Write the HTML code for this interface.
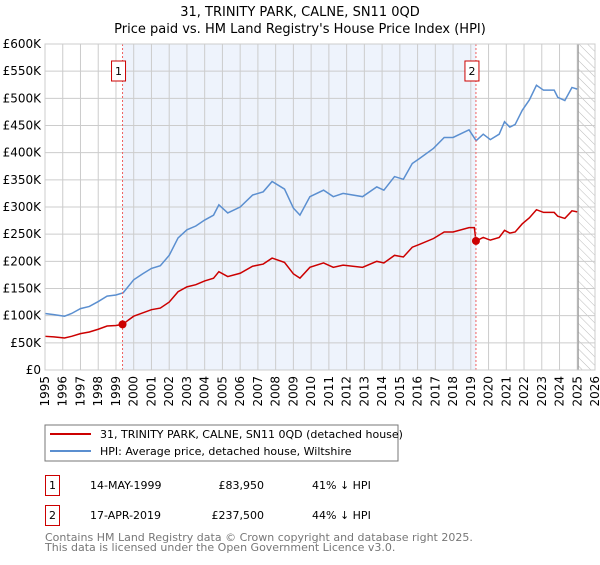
<!DOCTYPE html>
<html><head><meta charset="utf-8"><style>
body{margin:0;background:#fff;font-family:"Liberation Sans","DejaVu Sans",sans-serif;}
svg text{font-family:"DejaVu Sans","Liberation Sans",sans-serif;}
</style></head><body>
<svg id="c" width="600" height="560" xmlns="http://www.w3.org/2000/svg">
<defs><pattern id="hatch" width="6" height="6" patternUnits="userSpaceOnUse" patternTransform="rotate(-45)"><line x1="0" y1="0" x2="0" y2="6" stroke="#bbb" stroke-width="1"/></pattern></defs>
<text x="300" y="16" text-anchor="middle" font-size="13" fill="#000">31, TRINITY PARK, CALNE, SN11 0QD</text>
<text x="300" y="33" text-anchor="middle" font-size="13" fill="#000">Price paid vs. HM Land Registry's House Price Index (HPI)</text>
<g id="plot"></g>
<rect x="45" y="425" width="353" height="36" fill="#fff" stroke="#777"/>
<line x1="50" y1="434" x2="91" y2="434" stroke="#cc0000" stroke-width="2"/>
<text x="100" y="438" font-size="11">31, TRINITY PARK, CALNE, SN11 0QD (detached house)</text>
<line x1="50" y1="451" x2="91" y2="451" stroke="#5b8fd0" stroke-width="2"/>
<text x="100" y="455" font-size="11">HPI: Average price, detached house, Wiltshire</text>
<g>
<rect x="45.5" y="475.5" width="14" height="20" fill="#fff" stroke="#cc0000"/>
<text x="52.5" y="489" font-size="11" text-anchor="middle">1</text>
<text x="90" y="489" font-size="11">14-MAY-1999</text>
<text x="264" y="489" font-size="11" text-anchor="end">£83,950</text>
<text x="312" y="489" font-size="11">41% ↓ HPI</text></g>
<g>
<rect x="45.5" y="505.5" width="14" height="20" fill="#fff" stroke="#cc0000"/>
<text x="52.5" y="519" font-size="11" text-anchor="middle">2</text>
<text x="90" y="519" font-size="11">17-APR-2019</text>
<text x="264" y="519" font-size="11" text-anchor="end">£237,500</text>
<text x="312" y="519" font-size="11">44% ↓ HPI</text></g>
<text x="45" y="541" font-size="11" fill="#777">Contains HM Land Registry data © Crown copyright and database right 2025.</text>
<text x="45" y="551" font-size="11" fill="#777">This data is licensed under the Open Government Licence v3.0.</text>
</svg>
<script>
const hpiYears=[1995.0,1995.5,1996.1,1996.5,1997.0,1997.5,1998.0,1998.5,1999.0,1999.4,2000.0,2000.5,2001.0,2001.5,2002.0,2002.5,2003.0,2003.5,2004.0,2004.5,2004.8,2005.3,2006.0,2006.7,2007.3,2007.8,2008.5,2009.0,2009.37,2009.93,2010.7,2011.25,2011.8,2012.9,2013.7,2014.1,2014.7,2015.2,2015.7,2016.1,2016.9,2017.5,2018.0,2018.9,2019.3,2019.7,2020.1,2020.6,2020.9,2021.2,2021.5,2021.9,2022.3,2022.7,2023.1,2023.7,2023.9,2024.3,2024.7,2025.0];
const hpiValues=[104,102,99,104,113,117,126,136,138,142,166,177,187,192,211,243,258,265,276,285,304,289,300,322,328,347,333,298,285,319,331,319,325,319,337,331,356,351,380,389,408,428,428,442,422,434,424,434,457,447,452,478,497,524,515,515,502,496,520,517];
const propYears=[1995.0,1995.5,1996.1,1996.5,1997.0,1997.5,1998.0,1998.5,1999.0,1999.37,2000.0,2000.5,2001.0,2001.5,2002.0,2002.5,2003.0,2003.5,2004.0,2004.5,2004.8,2005.3,2006.0,2006.7,2007.3,2007.8,2008.5,2009.0,2009.37,2009.93,2010.7,2011.25,2011.8,2012.9,2013.7,2014.1,2014.7,2015.2,2015.7,2016.1,2016.9,2017.5,2018.0,2018.9,2019.2,2019.29,2019.7,2020.1,2020.6,2020.9,2021.2,2021.5,2021.9,2022.3,2022.7,2023.1,2023.7,2023.9,2024.3,2024.7,2025.0];
const propValues=[62,61,59,62,67,70,75,81,82,84,99,105,111,114,125,144,153,157,164,169,181,172,178,191,195,206,198,177,169,189,197,189,193,189,200,197,211,208,226,231,242,254,254,262,262,237.5,244,239,244,257,252,254,269,280,295,290,290,283,279,293,291];
const saleYears=[1999.37,2019.29];
const saleValues=[83.95,237.5];
const saleLabels=["1","2"];
const yTicks=[0,50,100,150,200,250,300,350,400,450,500,550,600];
const xTicks=[1995,1996,1997,1998,1999,2000,2001,2002,2003,2004,2005,2006,2007,2008,2009,2010,2011,2012,2013,2014,2015,2016,2017,2018,2019,2020,2021,2022,2023,2024,2025,2026];
const forecastStart=2025.05;

const NS="http://www.w3.org/2000/svg";
const X0=45,X1=595,Y0=370,Y1=44;
const xs=y=>X0+(y-1995)/(2026-1995)*(X1-X0);
const ys=v=>Y0-v/600*(Y0-Y1);
const g=document.getElementById('plot');
function mk(t,a,p){const e=document.createElementNS(NS,t);for(const k in a)e.setAttribute(k,a[k]);(p||g).appendChild(e);return e;}

const shade=mk('rect',{x:xs(saleYears[0]),y:Y1,width:xs(saleYears[1])-xs(saleYears[0]),height:Y0-Y1,fill:'#eef3fc'});


const hatch=mk('rect',{x:xs(forecastStart),y:Y1,width:X1-xs(forecastStart),height:Y0-Y1,fill:'url(#hatch)'});



yTicks.forEach(v=>{
 const l=mk('line',{x1:X0,x2:X1,y1:ys(v),y2:ys(v),stroke:'#ccc','stroke-width':1});
 
 
 const t=mk('text',{x:41,y:ys(v)+4,'text-anchor':'end','font-size':12});
 
 
 t.textContent=v===0?'£0':'£'+v+'K';
});
xTicks.forEach(yr=>{
 const l=mk('line',{x1:xs(yr),x2:xs(yr),y1:Y1,y2:Y0,stroke:'#ccc','stroke-width':1});
 
 
 const t=mk('text',{x:0,y:0,'font-size':12,'text-anchor':'end',transform:`translate(${xs(yr)+4},${Y0+6}) rotate(-90)`});
 
 
 t.textContent=yr;
});
const fl=mk('line',{x1:xs(forecastStart),x2:xs(forecastStart),y1:Y1,y2:Y0,stroke:'#999','stroke-width':1.2});



const hp=mk('polyline',{points:hpiYears.map((y,i)=>xs(y)+','+ys(hpiValues[i])).join(' '),fill:'none',stroke:'#5b8fd0','stroke-width':1.5});


const pp=mk('polyline',{points:propYears.map((y,i)=>xs(y)+','+ys(propValues[i])).join(' '),fill:'none',stroke:'#cc0000','stroke-width':1.5});



saleYears.forEach((yr,i)=>{
 const vl=mk('line',{x1:xs(yr),x2:xs(yr),y1:Y1,y2:Y0,stroke:'#f06060','stroke-width':1,'stroke-dasharray':'2,2'});
 
 
 const c=mk('circle',{cx:xs(yr),cy:ys(saleValues[i]),r:4,fill:'#cc0000'});
 
 
 const b=mk('rect',{x:xs(yr)-11,y:61,width:14,height:20,fill:'#fff',stroke:'#cc0000'});
 
 
 const t=mk('text',{x:xs(yr)-4,y:75,'font-size':11,'text-anchor':'middle'});
 
 
 t.textContent=saleLabels[i];
});
const fr=mk('rect',{x:X0,y:Y1,width:X1-X0,height:Y0-Y1,fill:'none',stroke:'#ccc'});


</script>
</body></html>
